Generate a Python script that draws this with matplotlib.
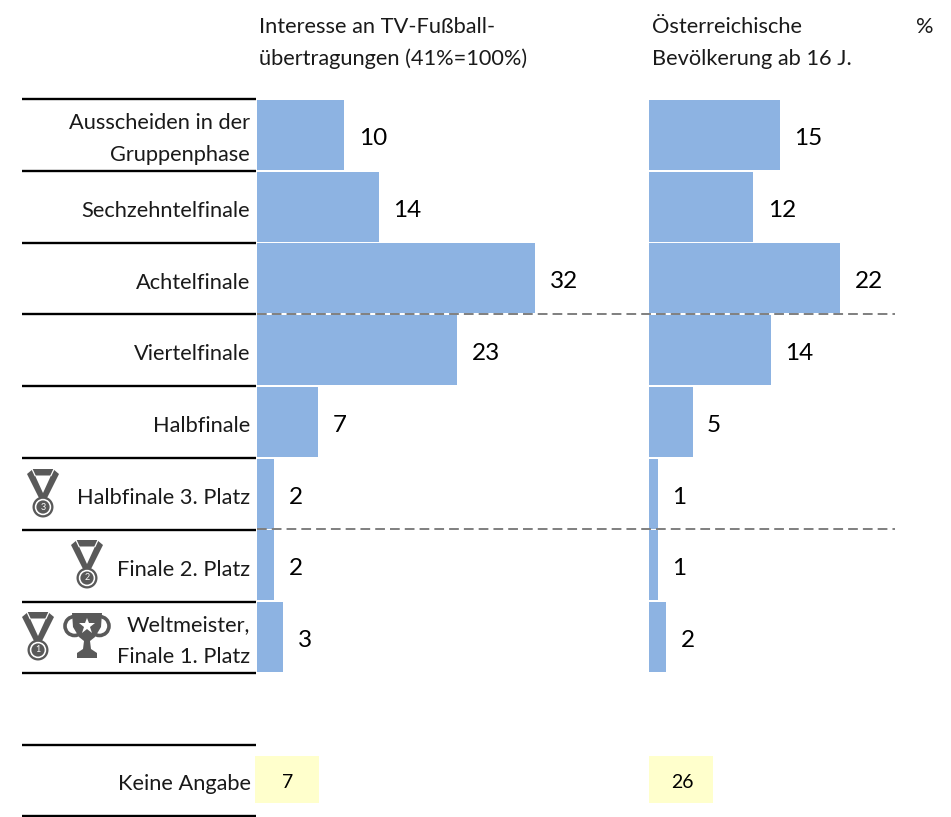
import matplotlib
matplotlib.use("Agg")
import matplotlib.pyplot as plt
from matplotlib.patches import Circle, Polygon, Rectangle, Ellipse

plt.rcParams['font.family'] = ['Lato', 'DejaVu Sans']

# Daten
categories = ["Ausscheiden in der\nGruppenphase", "Sechzehntelfinale", "Achtelfinale",
              "Viertelfinale", "Halbfinale", "Halbfinale 3. Platz", "Finale 2. Platz",
              "Weltmeister,\nFinale 1. Platz"]
interesse = [10, 14, 32, 23, 7, 2, 2, 3]
bevoelkerung = [15, 12, 22, 14, 5, 1, 1, 2]
keine_angabe = [7, 26]
title_left = "Interesse an TV-Fußball-\nübertragungen (41%=100%)"
title_right = "Österreichische\nBevölkerung ab 16 J."

W, H = 951, 817
BAR_COLOR = "#8DB3E2"
ICON = "#595959"
TEXT = "#1a1a1a"
PX_PER_UNIT = 8.70
LINE_SP = 1.72
FS = 15.7

fig = plt.figure(figsize=(W / 100, H / 100), dpi=100)

# Pixel-Ebene fuer Linien, Icons und Texte
bg = fig.add_axes([0, 0, 1, 1], zorder=1)
bg.set_xlim(0, W)
bg.set_ylim(H, 0)
bg.axis("off")


def bar_axes(x0, values):
    ax = fig.add_axes([x0 / W, 1 - 673 / H, 290 / W, 574 / H], zorder=2)
    ax.patch.set_alpha(0)
    bars = ax.barh(range(len(values)), values, height=0.975, color=BAR_COLOR)
    ax.set_xlim(0, 290 / PX_PER_UNIT)
    ax.set_ylim(7.5, -0.5)
    for t in ax.bar_label(bars, padding=11, fontsize=17.5, color="black"):
        t.xyann = (10.5, -2.5)
    ax.set_xticks([])
    ax.set_yticks([])
    for s in ax.spines.values():
        s.set_visible(False)
    return ax


ax_left = bar_axes(257, interesse)
bar_axes(649, bevoelkerung)

# Zeilenbeschriftung
for i, label in enumerate(categories):
    ax_left.annotate(label, (0, i), xytext=(-5, -3), textcoords="offset points",
                     ha="right", va="center", fontsize=FS, linespacing=LINE_SP,
                     color=TEXT, multialignment="right")

# Trennlinien
for y in [99, 171, 243, 314, 386, 458, 530, 602, 673, 745, 816]:
    bg.plot([22, 256], [y, y], color="black", lw=1.7, solid_capstyle="butt")

# Gestrichelte Linien, ueber den Balken
top = fig.add_axes([0, 0, 1, 1], zorder=3)
top.set_xlim(0, W)
top.set_ylim(H, 0)
top.axis("off")
for y in [314, 529]:
    top.plot([257, 895], [y, y], color="#7f7f7f", lw=1.4, dashes=(5, 2.6))

# Kopfzeilen
bg.text(259, 43, title_left, fontsize=FS, va="center", ha="left",
        linespacing=LINE_SP, color=TEXT)
bg.text(652, 43, title_right, fontsize=FS, va="center", ha="left",
        linespacing=LINE_SP, color=TEXT)
bg.text(925, 27, "%", fontsize=FS, va="center", ha="center", color=TEXT)

# Keine Angabe
bg.text(251, 784, "Keine Angabe", fontsize=FS, va="center", ha="right", color=TEXT)
for x0, v in zip([255, 649], keine_angabe):
    bg.add_patch(Rectangle((x0, 756), 64, 47, color="#FFFFCC", lw=0))
    bg.text(x0 + 33, 782, str(v), fontsize=14, va="center", ha="center", color="black")


def medal(cx, ytop, num):
    # Band
    bg.add_patch(Polygon([(cx - 16, ytop + 5), (cx - 10, ytop), (cx + 10, ytop), (cx + 16, ytop + 5),
                          (cx + 4, ytop + 29), (cx - 4, ytop + 29)], color=ICON, lw=0))
    bg.add_patch(Polygon([(cx - 8, ytop + 6.5), (cx + 8, ytop + 6.5), (cx, ytop + 24)], color="white", lw=0))
    # Schlitze zwischen Band und Riemen
    for s in (-1, 1):
        bg.plot([cx + s * 8, cx + s * 11], [ytop + 6.5, ytop], color="white", lw=0.9)
    # Scheibe
    bg.add_patch(Circle((cx, ytop + 38), 10.5, color=ICON, lw=0))
    bg.add_patch(Circle((cx, ytop + 38), 8.2, color="white", lw=0))
    bg.add_patch(Circle((cx, ytop + 38), 6.6, color=ICON, lw=0))
    bg.text(cx, ytop + 38, str(num), fontsize=6.5, color="white", ha="center", va="center")


def trophy(cx, ytop):
    bg.add_patch(Ellipse((cx - 12.5, ytop + 13), 19, 19, fill=False, ec=ICON, lw=2.6))
    bg.add_patch(Ellipse((cx + 12.5, ytop + 13), 19, 19, fill=False, ec=ICON, lw=2.6))
    bg.add_patch(Polygon([(cx - 15, ytop), (cx + 15, ytop), (cx + 14, ytop + 14), (cx + 8, ytop + 24),
                          (cx + 3, ytop + 28), (cx + 4, ytop + 36), (cx + 10, ytop + 40), (cx + 10, ytop + 45),
                          (cx - 10, ytop + 45), (cx - 10, ytop + 40), (cx - 4, ytop + 36), (cx - 3, ytop + 28),
                          (cx - 8, ytop + 24), (cx - 14, ytop + 14)], color=ICON, lw=0, zorder=3))
    bg.plot([cx], [ytop + 13], marker="*", ms=12, color="white", mew=0, zorder=4)


medal(43, 469, 3)
medal(87, 540, 2)
medal(38, 612, 1)
trophy(87, 613)

fig.savefig("out.png", dpi=100)
